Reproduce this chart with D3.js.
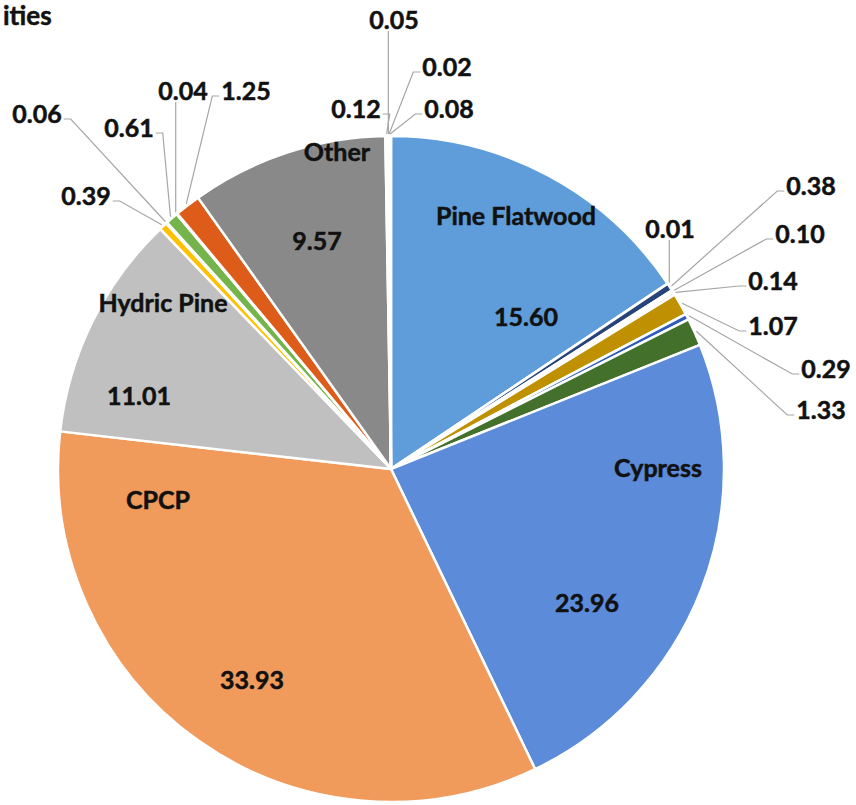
<!DOCTYPE html>
<html><head><meta charset="utf-8">
<script src="https://cdn.jsdelivr.net/npm/d3@7"></script>
<style>
body{margin:0;background:#fff}
svg{display:block}
text{font-family:Lato,"Open Sans",sans-serif;font-weight:bold;fill:#111;stroke:#111;stroke-width:0.5px}
</style>
</head><body>
<svg id="c" width="856" height="805"></svg>
<script>
// ---- data ----
const categories = ["Pine Flatwood","c2","c3","c4","c5","c6","c7","c8","Cypress","CPCP","Hydric Pine",
  "c12","c13","c14","c15","c16","Other","c18","c19","c20","c21"];
const values = [15.60,0.01,0.38,0.10,0.14,1.07,0.29,1.33,23.96,33.93,11.01,
  0.39,0.06,0.61,0.04,1.25,9.57,0.12,0.05,0.02,0.08];
const valueLabels = ["15.60","0.01","0.38","0.10","0.14","1.07","0.29","1.33","23.96","33.93","11.01",
  "0.39","0.06","0.61","0.04","1.25","9.57","0.12","0.05","0.02","0.08"];
const namedSlices = ["Pine Flatwood","Cypress","CPCP","Hydric Pine","Other"];
const titleText = "ities";

// ---- styles ----
const colors = ["#5E9DDA","#1F3864","#264478","#7F6000","#A5A5A5","#BF9000","#2F5CB5","#43702B",
  "#5B8BD9","#F09A5C","#C0C0C0","#FFC000","#A9D18E","#74B44A","#C55A11","#DE5C1A",
  "#898989","#7F7F7F","#9DC3E6","#F4B183","#5B9BD5"];

// ---- layout ----
const W = 856, H = 805, CX = 391, CY = 469, R = 333;
// outer label placement: index -> [x, y, side]
const outerLabels = {
  1:[670,229,"v"], 2:[811,186,"r"], 3:[800,234,"r"], 4:[773,281,"r"], 5:[773,326,"r"],
  6:[826,369,"r"], 7:[821,410,"r"],
  11:[86,196,"l"], 12:[37,114,"l"], 13:[129,128,"l"], 14:[183,91,"v"], 15:[246,91,"r"],
  17:[356,109,"l"], 18:[394,20,"v"], 19:[447,67,"r"], 20:[449,109,"r"]
};
// inner labels: index -> [nameX, nameY, valueX, valueY]
const innerLabels = {
  0:[516,216,526,317], 8:[658,468,587,603], 9:[158,500,252,680],
  10:[163,303,139,396], 16:[337,152,317,241]
};
const FS = 25;

const svg = d3.select("#c");
svg.append("text").attr("x",3).attr("y",25).attr("font-size",26).text(titleText);

const data = categories.map((c,i)=>({name:c, value:values[i], label:valueLabels[i], i}));
const pie = d3.pie().sort(null).value(d=>d.value).startAngle(0).endAngle(2*Math.PI);
const arcs = pie(data);
const arc = d3.arc().innerRadius(0).outerRadius(R);
const g = svg.append("g").attr("transform",`translate(${CX},${CY})`);

g.selectAll("path.slice").data(arcs).join("path")
  .attr("class","slice")
  .attr("d",arc)
  .attr("fill",d=>colors[d.data.i])
  .attr("stroke","#fff").attr("stroke-width",2.5).attr("stroke-linejoin","round");

function polar(a,r){return [CX+Math.sin(a)*r, CY-Math.cos(a)*r];}

// outer labels + leader lines
const leaders = svg.append("g");
const labs = svg.append("g");
arcs.forEach(d=>{
  const L = outerLabels[d.data.i];
  if(!L) return;
  const t = labs.append("text").attr("x",L[0]).attr("y",L[1]+9)
    .attr("text-anchor","middle").attr("font-size",FS).text(d.data.label);
  const bb = t.node().getBBox();
  const mid = (d.startAngle+d.endAngle)/2;
  const s = polar(mid,R+2);
  let pts;
  if(L[2]==="r"){
    const ex = bb.x-2, ey = L[1]+5;
    pts = [s,[ex-7,ey],[ex,ey]];
  } else if(L[2]==="l"){
    const ex = bb.x+bb.width+2, ey = L[1]+5;
    pts = [s,[ex+7,ey],[ex,ey]];
  } else {
    pts = [s,[s[0],L[1]+11]];
  }
  leaders.append("path").attr("d",d3.line()(pts))
    .attr("fill","none").attr("stroke","#A6A6A6").attr("stroke-width",1.2);
});

// inner labels
arcs.forEach(d=>{
  const L = innerLabels[d.data.i];
  if(!L) return;
  labs.append("text").attr("x",L[0]).attr("y",L[1]+9).attr("text-anchor","middle")
    .attr("font-size",FS).text(d.data.name);
  labs.append("text").attr("x",L[2]).attr("y",L[3]+9).attr("text-anchor","middle")
    .attr("font-size",FS).text(d.data.label);
});
</script>
</body></html>
